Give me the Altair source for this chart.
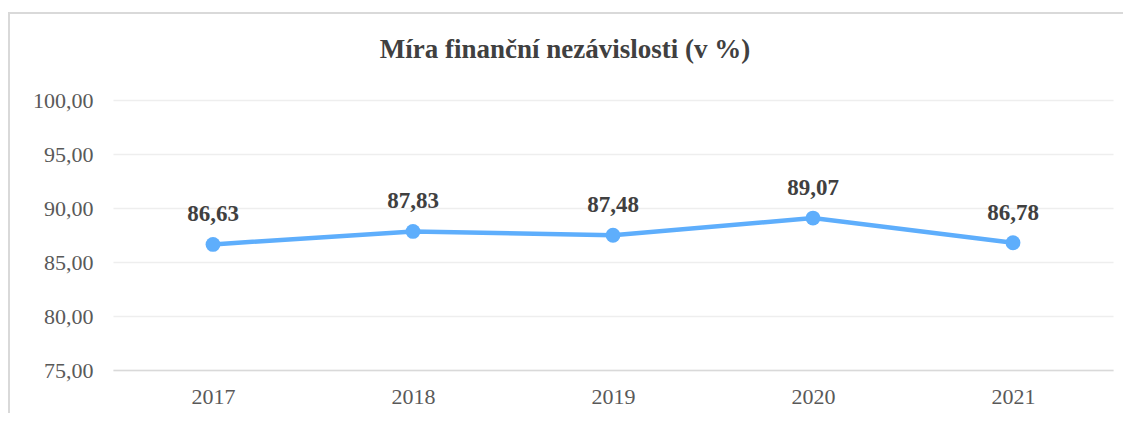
import altair as alt
import pandas as pd

years = ["2017", "2018", "2019", "2020", "2021"]
values = [86.63, 87.83, 87.48, 89.07, 86.78]
labels = ["86,63", "87,83", "87,48", "89,07", "86,78"]
title_text = ["Míra finanční nezávislosti (v %)"]

df = pd.DataFrame({"year": years, "value": values, "label": labels})
tdf = pd.DataFrame({"t": title_text})

FONT = "Liberation Serif"

base = alt.Chart(df).encode(
    x=alt.X("year:O", title=None,
            axis=alt.Axis(labelAngle=0, ticks=False, domain=True, domainColor="#d9d9d9",
                          domainWidth=1.5, labelPadding=16, labelFontSize=22,
                          labelColor="#595959", labelFont=FONT, grid=False)),
    y=alt.Y("value:Q", title=None,
            scale=alt.Scale(domain=[75, 100], nice=False, zero=False),
            axis=alt.Axis(values=[75, 80, 85, 90, 95, 100], ticks=False, domain=False,
                          gridColor="#eeeeee", gridWidth=1.5, labelPadding=20,
                          labelFontSize=22, labelColor="#595959", labelFont=FONT,
                          labelExpr="replace(format(datum.value, '.2f'), '.', ',')")),
)

border = alt.Chart(df).mark_rect(fill=None, stroke="#d9d9d9", strokeWidth=1.5).encode(
    x=alt.value(-104), x2=alt.value(1060), y=alt.value(-87), y2=alt.value(340)
)

title = alt.Chart(tdf).mark_text(fontSize=27, fontWeight="bold", font=FONT,
                                 color="#404040", align="center", baseline="middle").encode(
    text="t:N", x=alt.value(452), y=alt.value(-50)
)

line = base.mark_line(color="#5eaefc", strokeWidth=4.5)
points = base.mark_point(filled=True, color="#5eaefc", size=220, opacity=1)
text = base.mark_text(baseline="bottom", dy=-18, fontSize=23, fontWeight="bold",
                      font=FONT, color="#404040").encode(text="label:N")

chart = alt.layer(border, title, line, points, text).properties(
    width=1000, height=270,
    autosize=alt.AutoSizeParams(type="none"),
    padding={"left": 105, "top": 92, "right": 10, "bottom": 43},
).configure_view(stroke=None)

chart.save("out.html", embed_options={"renderer": "svg", "actions": False})
